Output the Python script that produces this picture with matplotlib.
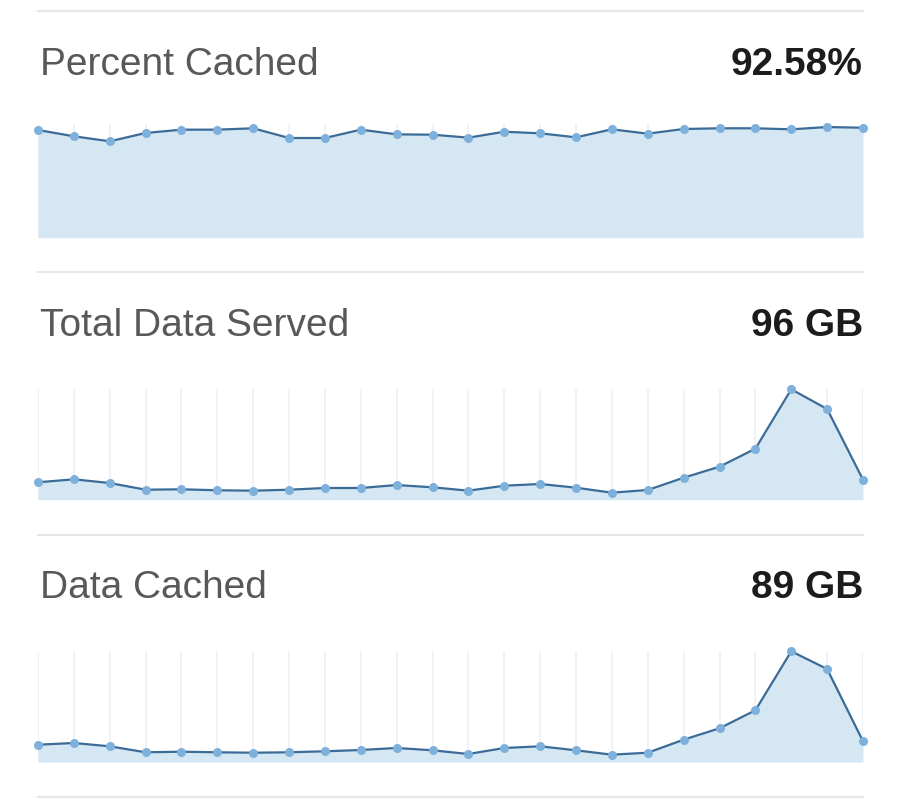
import numpy as np
import matplotlib
matplotlib.use("Agg")
import matplotlib.pyplot as plt
from matplotlib.lines import Line2D

plt.rcParams['font.family'] = ['Liberation Sans', 'DejaVu Sans']

# datos (24 puntos)
percent_cached = [94.3, 88.8, 84.4, 91.7, 94.6, 94.6, 95.8, 87.3, 87.3, 94.6, 90.5, 90.2,
                  87.6, 92.8, 91.4, 87.9, 94.9, 91.1, 95.2, 95.8, 95.8, 94.9, 96.9, 96.3]
data_served = [3.05, 3.57, 2.92, 1.75, 1.82, 1.65, 1.58, 1.75, 2.05, 2.05, 2.57, 2.17,
               1.58, 2.45, 2.75, 2.10, 1.23, 1.70, 3.85, 5.78, 8.93, 19.33, 15.88, 3.50]
data_cached = [2.81, 3.09, 2.55, 1.58, 1.67, 1.58, 1.51, 1.58, 1.74, 1.95, 2.28, 1.90,
               1.30, 2.28, 2.55, 1.90, 1.19, 1.51, 3.63, 5.48, 8.41, 18.0, 15.12, 3.37]

titles = ["Percent Cached", "Total Data Served", "Data Cached"]
totals = ["92.58%", "96 GB", "89 GB"]

W, H = 902, 800
fig = plt.figure(figsize=(W / 100, H / 100), dpi=100)

line_col = "#3b6b97"
dot_col = "#7eb0dc"
fill_col = "#d6e7f4"
grid_col = "#edf0f7"
sep_col = "#e6e6e6"

x = np.arange(len(data_served))

# (serie, top px, bottom px, ymax)
paneles = [
    (percent_cached, 123.5, 237.7, 100),
    (data_served, 389.3, 499.7, max(data_served)),
    (data_cached, 651.3, 762.0, max(data_cached)),
]

left, right = 38, 863
for serie, top, bot, ymax in paneles:
    ax = fig.add_axes([left / W, 1 - bot / H, (right - left) / W, (bot - top) / H])
    ax.set_xlim(0, len(serie) - 1)
    ax.set_ylim(0, ymax)
    ax.set_xticks(x)
    ax.set_axisbelow(True)
    ax.grid(axis="x", color=grid_col, lw=1.2)
    ax.fill_between(x, serie, 0, color=fill_col, lw=0, zorder=1)
    ax.plot(x, serie, color=line_col, lw=1.6, zorder=2, clip_on=False)
    ax.plot(x, serie, "o", color=dot_col, ms=6.5, mew=0, zorder=3, clip_on=False)
    ax.tick_params(length=0, labelbottom=False, labelleft=False)
    for s in ax.spines.values():
        s.set_visible(False)
    ax.patch.set_alpha(0)

# separadores
for yp in [11, 272, 535, 797]:
    fig.add_artist(Line2D([left / W, right / W], [1 - yp / H, 1 - yp / H],
                          transform=fig.transFigure, color=sep_col, lw=1.5))

# titulos
for i, (t, v) in enumerate(zip(titles, totals)):
    yb = 75 + i * 261.5
    fig.text(40 / W, 1 - yb / H, t, fontsize=28, color="#58585a", va="baseline", ha="left")
    fig.text(right / W, 1 - yb / H, v, fontsize=28, color="#1c1c1e", fontweight="bold",
             va="baseline", ha="right")

fig.savefig("out.png", dpi=100, facecolor="white")
